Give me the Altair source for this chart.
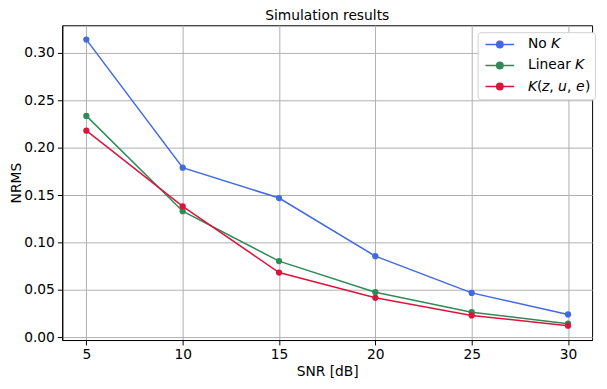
import altair as alt
import pandas as pd

snr = [5, 10, 15, 20, 25, 30]
no_k = [0.314, 0.179, 0.147, 0.0857, 0.047, 0.0243]
linear_k = [0.2336, 0.1331, 0.0805, 0.0477, 0.0266, 0.0145]
k_zue = [0.218, 0.1383, 0.0684, 0.0418, 0.0232, 0.0124]

names = ["No \U0001D612", "Linear \U0001D612", "\U0001D612(\U0001D63B, \U0001D636, \U0001D626)"]
colors = ["#4169E1", "#2E8B57", "#DC143C"]

rows = []
for name, vals in zip(names, [no_k, linear_k, k_zue]):
    for x, v in zip(snr, vals):
        rows.append({"snr": x, "nrms": v, "series": name})
df = pd.DataFrame(rows)

FONT = "DejaVu Sans"

color = alt.Color(
    "series:N",
    scale=alt.Scale(domain=names, range=colors),
    sort=names,
    legend=alt.Legend(
        title=None,
        orient="none",
        legendX=421,
        legendY=7,
        symbolType="M-2.23,0H2.23M-0.5,0a0.5,0.5 0 1,0 1,0a0.5,0.5 0 1,0 -1,0",
        symbolSize=170,
        symbolStrokeWidth=1.5,
        symbolOffset=10,
        labelFontSize=14,
        labelFont=FONT,
        labelColor="black",
        labelOffset=21,
        rowPadding=6.3,
        padding=5,
        strokeColor="#d0d0d0",
        fillColor="white",
        cornerRadius=3,
    ),
)

x = alt.X(
    "snr:Q",
    scale=alt.Scale(domain=[3.75, 31.25], nice=False, zero=False),
    axis=alt.Axis(values=snr, title="SNR [dB]", format="d"),
)
y = alt.Y(
    "nrms:Q",
    scale=alt.Scale(domain=[-0.0027, 0.3291], nice=False, zero=False),
    axis=alt.Axis(values=[0, 0.05, 0.10, 0.15, 0.20, 0.25, 0.30], format=".2f", title="NRMS"),
)

base = alt.Chart(df)
lines = base.mark_line(strokeWidth=1.5).encode(x=x, y=y, color=color)
points = base.mark_point(filled=True, size=40, opacity=1).encode(x=x, y=y, color=color)

chart = (
    alt.layer(lines, points)
    .properties(
        width=537,
        height=319,
        title=alt.TitleParams(
            "Simulation results",
            fontSize=14,
            font=FONT,
            fontWeight="normal",
            anchor="middle",
            offset=2,
            color="black",
        ),
        autosize=alt.AutoSizeParams(type="none"),
        padding={"left": 55, "top": 15, "right": 7, "bottom": 39},
    )
    .configure_view(stroke="black", strokeWidth=1)
    .configure_axis(
        labelFont=FONT,
        titleFont=FONT,
        labelFontSize=14,
        titleFontSize=14,
        titleFontWeight="normal",
        labelColor="black",
        titleColor="black",
        domainColor="black",
        tickColor="black",
        tickSize=5,
        labelPadding=3,
        gridColor="#b0b0b0",
        gridWidth=1,
    )
    .configure_axisX(titlePadding=3, labelFlush=False)
    .configure_axisY(titlePadding=0, labelFlush=False)
)

chart.save("out.html", embed_options={"renderer": "svg", "actions": False})
